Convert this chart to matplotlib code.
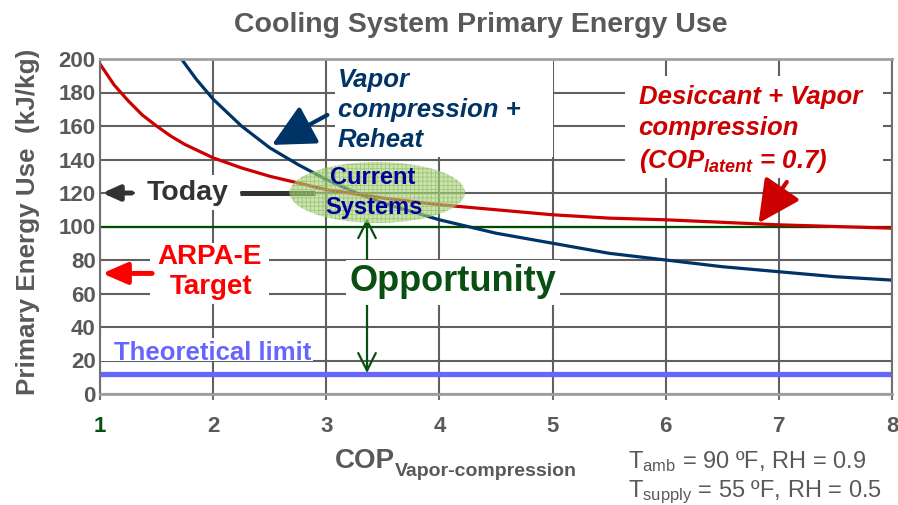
import matplotlib
matplotlib.use("Agg")
import matplotlib.pyplot as plt
from matplotlib.patches import Ellipse, Rectangle

plt.rcParams['font.family'] = ['Liberation Sans', 'DejaVu Sans']
plt.rcParams['mathtext.fontset'] = 'custom'
plt.rcParams['mathtext.rm'] = 'Liberation Sans'
plt.rcParams['mathtext.it'] = 'Liberation Sans:italic:bold'
plt.rcParams['mathtext.bf'] = 'Liberation Sans:bold'
plt.rcParams['hatch.linewidth'] = 0.6

# Desiccant + vapor compression (COP_latent = 0.7)
cop_desiccant = [1.0, 1.125, 1.25, 1.375, 1.5, 1.625, 1.75, 1.875, 2.0, 2.25, 2.5,
                 2.75, 3.0, 3.5, 4.0, 4.5, 5.0, 5.5, 6.0, 7.0, 8.0]
energy_desiccant = [197, 184.5, 175, 166.5, 160, 154, 149, 145, 141, 135, 130,
                    126, 122, 117, 113, 110, 107, 105, 104, 101, 99]

# Vapor compression + reheat
cop_reheat = [1.72, 1.85, 2.0, 2.25, 2.5, 2.75, 3.0, 3.25, 3.5, 3.75, 4.0, 4.5,
              5.0, 5.5, 6.0, 6.5, 7.0, 7.5, 8.0]
energy_reheat = [200, 188, 176, 160, 147, 137, 128, 120.5, 114, 109, 104, 96,
                 90, 84, 80, 76, 73, 70, 68]

# Reference levels (kJ/kg)
theoretical_limit = 12
reference_level = 100
today_level = 120
arpae_target = 72

x_ticks = [1, 2, 3, 4, 5, 6, 7, 8]
y_ticks = [0, 20, 40, 60, 80, 100, 120, 140, 160, 180, 200]

GRAY = '#595959'
NAVY = '#003366'
DRED = '#cc0000'
DGREEN = '#0a4f12'

W, H = 898, 505
fig = plt.figure(figsize=(W / 100, H / 100), dpi=100)
ax = fig.add_axes([100 / W, 111 / H, 792 / W, 335 / H])
ax.set_xlim(1, 8)
ax.set_ylim(0, 200)
ax.set_xticks(x_ticks)
ax.set_yticks(y_ticks)
ax.set_axisbelow(True)
ax.grid(True, color='#606060', lw=1.5)

for side in ['left', 'right']:
    ax.spines[side].set_color('#707070')
    ax.spines[side].set_linewidth(1.5)
for side in ['top', 'bottom']:
    ax.spines[side].set_color('#a0a0a0')
    ax.spines[side].set_linewidth(2)

ax.tick_params(axis='x', length=4, width=1.5, color='#707070', pad=12,
               labelsize=16, labelcolor=GRAY)
ax.tick_params(axis='y', length=0, pad=3, labelsize=16, labelcolor=GRAY)
for lab in ax.get_xticklabels() + ax.get_yticklabels():
    lab.set_fontweight('bold')
ax.get_xticklabels()[0].set_color(DGREEN)

# white panels behind the annotations
panels = [
    (3.08, 141.5, 1.92, 58),   # vapor compression + reheat
    (5.64, 129, 2.28, 61),     # desiccant
    (1.31, 110, 0.93, 21),     # today
    (1.44, 54, 1.05, 36),      # ARPA-E target
    (1.0, 20, 1.88, 13.5),     # theoretical limit
]
for x0, y0, w, h in panels:
    ax.add_patch(Rectangle((x0, y0), w, h, facecolor='white', edgecolor='none', zorder=1))

# curves and reference lines
ax.axhline(reference_level, color='#004d00', lw=1.6, zorder=2)
ax.axhline(theoretical_limit, color='#6666ff', lw=3.8, zorder=2)
ax.plot(cop_desiccant, energy_desiccant, color=DRED, lw=2.3, zorder=2.2)
ax.plot(cop_reheat, energy_reheat, color=NAVY, lw=2.3, zorder=2.1)

# "Today" marker line
ax.plot([2.24, 2.9], [today_level, today_level], color='#333333', lw=3.6,
        solid_capstyle='butt', zorder=2)
ax.annotate('', xy=(1.02, today_level), xytext=(1.28, today_level),
            arrowprops=dict(arrowstyle='-|>,head_length=1.0,head_width=0.45',
                            lw=3.6, color='#333333', shrinkA=0, shrinkB=0,
                            mutation_scale=10), zorder=3)
ax.text(1.77, today_level, 'Today', fontsize=20.5, weight='bold', color='#333333',
        ha='center', va='center', zorder=4)

# current systems cloud
ax.add_patch(Ellipse((3.45, 120.3), 1.55, 36.4, facecolor='#a9cf7f', edgecolor='none',
                     alpha=0.6, zorder=3))
ax.add_patch(Ellipse((3.45, 120.3), 1.55, 36.4, facecolor='none', edgecolor='#8fbf5a',
                     hatch='++++', lw=0, alpha=0.7, zorder=3))
ax.text(3.03, 129, 'Current', fontsize=17, weight='bold', color='#000099',
        ha='left', va='center', zorder=4)
ax.text(2.99, 111.5, 'Systems', fontsize=17, weight='bold', color='#000099',
        ha='left', va='center', zorder=4)

# opportunity span
ax.annotate('', xy=(3.36, 105), xytext=(3.36, 12.5),
            arrowprops=dict(arrowstyle='<->,head_length=0.9,head_width=0.45',
                            lw=1.6, color=DGREEN, shrinkA=0, shrinkB=0,
                            mutation_scale=14), zorder=2.5)
ax.add_patch(Rectangle((3.17, 53), 1.9, 27, facecolor='white', edgecolor='none', zorder=2.6))
ax.text(4.12, 67, 'Opportunity', fontsize=26, weight='bold', color=DGREEN,
        ha='center', va='center', zorder=4)

# ARPA-E target
ax.annotate('', xy=(1.02, arpae_target), xytext=(1.46, arpae_target),
            arrowprops=dict(arrowstyle='-|>,head_length=1.5,head_width=0.65',
                            lw=3.6, color='#ff0000', shrinkA=0, shrinkB=0,
                            mutation_scale=10), zorder=3)
ax.text(1.97, 82, 'ARPA-E', fontsize=20, weight='bold', color='#ff0000',
        ha='center', va='center', zorder=4)
ax.text(1.98, 64, 'Target', fontsize=20, weight='bold', color='#ff0000',
        ha='center', va='center', zorder=4)

# theoretical limit
ax.text(1.12, 24.5, 'Theoretical limit', fontsize=18.5, weight='bold', color='#6666ff',
        ha='left', va='center', zorder=4)

# vapor compression + reheat label and pointer
ax.text(3.10, 169.5, 'Vapor\ncompression +\nReheat', fontsize=18.5, weight='bold',
        style='italic', color=NAVY, ha='left', va='center', linespacing=1.33, zorder=4)
ax.annotate('', xy=(2.52, 148.7), xytext=(3.01, 166.6),
            arrowprops=dict(arrowstyle='-|>,head_length=1.3,head_width=0.65',
                            lw=3, color=NAVY, shrinkA=0, shrinkB=0,
                            mutation_scale=20), zorder=3)

# desiccant label and pointer
ax.text(5.76, 157.6, 'Desiccant + Vapor\ncompression\n(COP$_{\\mathit{latent}}$ = 0.7)',
        fontsize=18.5, weight='bold', style='italic', color=DRED, ha='left', va='center',
        linespacing=1.33, zorder=4)
ax.annotate('', xy=(6.82, 102), xytext=(7.07, 126.6),
            arrowprops=dict(arrowstyle='-|>,head_length=1.3,head_width=0.65',
                            lw=3, color=DRED, shrinkA=0, shrinkB=0,
                            mutation_scale=20), zorder=3)

# titles and axis labels
fig.text(481 / W, 1 - 32 / H, 'Cooling System Primary Energy Use', fontsize=20.5,
         weight='bold', color=GRAY, ha='center', va='baseline')
fig.text(28 / W, 1 - 222 / H, 'Primary Energy Use  (kJ/kg)', fontsize=18.7,
         weight='bold', color=GRAY, rotation=90, ha='center', va='center')
cop = fig.text(335 / W, 1 - 468 / H, 'COP', fontsize=20, weight='bold', color=GRAY,
               ha='left', va='baseline')
ax.annotate('Vapor-compression', xy=(1, 0), xycoords=cop, xytext=(0, -4.2),
            textcoords='offset points', fontsize=14, weight='bold', color=GRAY,
            ha='left', va='bottom', annotation_clip=False)

fig.text(628 / W, 1 - 468 / H, 'T$_{\\mathrm{amb}}$ = 90 \u00baF, RH = 0.9', fontsize=17,
         color=GRAY, ha='left', va='baseline')
fig.text(628 / W, 1 - 497 / H, 'T$_{\\mathrm{supply}}$ = 55 \u00baF, RH = 0.5', fontsize=17,
         color=GRAY, ha='left', va='baseline')

fig.savefig('out.png', dpi=100)
